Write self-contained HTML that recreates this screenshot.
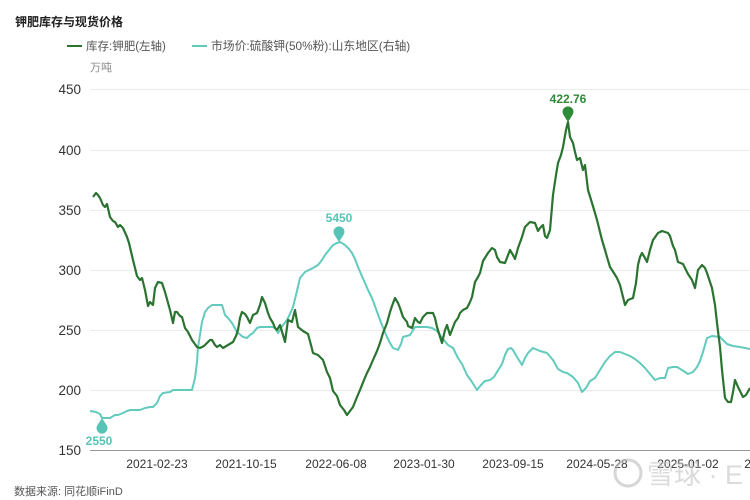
<!DOCTYPE html>
<html><head><meta charset="utf-8"><style>
html,body{margin:0;padding:0;background:#fff;}
svg{display:block;font-family:"Liberation Sans","Noto Sans CJK SC",sans-serif;}
</style></head><body>
<svg width="750" height="500" viewBox="0 0 750 500" xmlns="http://www.w3.org/2000/svg">
<rect width="750" height="500" fill="#fff"/>
<text x="15" y="26" font-size="12" font-weight="bold" fill="#222">钾肥库存与现货价格</text>
<line x1="67" y1="46" x2="82" y2="46" stroke="#2b7330" stroke-width="2"/>
<text x="86" y="50" font-size="11.5" fill="#555">库存:钾肥(左轴)</text>
<line x1="192" y1="46" x2="207" y2="46" stroke="#62cbbd" stroke-width="2"/>
<text x="211" y="50" font-size="11.8" fill="#555">市场价:硫酸钾(50%粉):山东地区(右轴)</text>
<text x="90" y="71" font-size="11" fill="#888">万吨</text>
<g stroke="#ececec" stroke-width="1">
<line x1="90" y1="89.5" x2="750" y2="89.5"/>
<line x1="90" y1="150.5" x2="750" y2="150.5"/>
<line x1="90" y1="210.5" x2="750" y2="210.5"/>
<line x1="90" y1="270.5" x2="750" y2="270.5"/>
<line x1="90" y1="330.5" x2="750" y2="330.5"/>
<line x1="90" y1="390.5" x2="750" y2="390.5"/>
</g>
<line x1="90" y1="450.5" x2="750" y2="450.5" stroke="#999" stroke-width="1"/>
<g font-size="13.5" fill="#333" text-anchor="end">
<text x="81" y="94">450</text>
<text x="81" y="155">400</text>
<text x="81" y="215">350</text>
<text x="81" y="275">300</text>
<text x="81" y="335">250</text>
<text x="81" y="395">200</text>
<text x="81" y="455">150</text>
</g>
<g font-size="12" fill="#333" text-anchor="middle">
<text x="157" y="468">2021-02-23</text>
<text x="246" y="468">2021-10-15</text>
<text x="336" y="468">2022-06-08</text>
<text x="424" y="468">2023-01-30</text>
<text x="513" y="468">2023-09-15</text>
<text x="597" y="468">2024-05-28</text>
<text x="688" y="468">2025-01-02</text>
<text x="775" y="468">2025-08-20</text>
</g>
<text x="14" y="495" font-size="11" fill="#555">数据来源: 同花顺iFinD</text>

<polyline fill="none" stroke="#62cbbd" stroke-width="2" stroke-linejoin="round" points="90,411 96,412 100,414 102,418 106,418 110,418 115,415 118,415 123,413 127,411 130,410 140,410 145,408 150,407 153,407 157,403 160,396 163,393 170,392 173,390 192,390 195,378 197,362 198,347 200,335 202,322 205,312 208,308 212,305 222,305 225,315 228,318 232,323 237,332 243,337 247,338 250,335 253,333 257,328 260,327 267,327 273,327 275,328 278,333 283,325 287,320 290,314 293,307 296,295 300,278 305,272 313,268 318,265 322,260 325,255 329,250 333,245 337,243 340,242 345,245 349,249 352,253 355,259 358,267 361,274 365,283 368,290 372,298 376,309 380,320 384,330 387,337 390,343 393,348 398,350 401,344 403,337 410,335 415,327 427,327 432,328 437,331 443,339 448,345 453,348 458,358 462,364 467,375 472,382 477,390 481,385 485,381 490,380 494,377 497,372 502,364 505,355 508,349 511,348 513,350 517,357 522,365 525,358 528,353 533,348 540,351 547,353 553,360 558,369 563,372 567,373 573,377 578,383 582,392 586,388 590,381 595,378 600,370 605,362 610,356 615,352 620,352 625,354 630,356 635,359 640,363 645,368 650,374 655,380 660,378 665,378 668,368 673,367 677,367 682,370 688,374 693,372 697,367 700,361 703,352 707,338 712,336 720,337 724,341 727,344 733,346 740,347 750,349"/>

<polyline fill="none" stroke="#2b7330" stroke-width="2.2" stroke-linejoin="round" points="93,197 96,193 98,195 100,198 103,205 105,207 107,204 110,217 113,221 115,222 118,227 120,225 123,228 127,237 129,243 133,260 137,276 140,280 142,278 145,290 148,306 150,302 153,305 155,288 158,282 162,283 165,292 170,310 173,323 175,312 177,312 180,316 182,317 185,328 188,332 192,340 197,347 200,348 204,346 207,343 210,340 212,340 215,345 217,347 220,345 223,348 228,345 233,342 236,336 238,330 240,318 242,312 245,314 247,317 250,323 253,315 257,313 260,305 262,297 265,303 268,313 270,318 273,323 275,328 277,330 280,325 283,335 285,342 288,320 292,322 295,310 298,327 303,331 308,334 311,345 313,353 318,355 323,360 327,372 330,378 333,391 337,396 340,405 344,410 347,415 350,411 353,407 357,397 360,390 364,380 367,373 370,367 373,360 377,351 380,343 383,333 387,323 390,312 392,306 395,298 398,303 400,308 403,317 407,322 408,326 412,328 415,318 418,322 420,323 423,317 427,313 430,313 433,313 435,318 437,327 442,343 445,330 447,325 450,335 455,322 458,318 460,313 463,310 467,308 470,302 472,297 475,282 478,277 480,273 483,261 488,253 492,248 495,250 497,257 500,262 505,263 510,250 513,255 515,259 518,248 522,237 525,227 530,222 535,223 538,231 540,228 543,225 545,236 547,238 550,230 553,195 556,175 558,163 561,155 563,147 566,130 568,122 570,137 573,143 575,152 577,160 580,158 583,170 585,165 588,190 592,203 595,213 597,220 600,232 602,240 605,250 607,257 610,267 612,270 617,278 620,285 622,293 625,305 628,300 633,298 636,283 638,265 640,257 642,253 645,258 647,262 650,250 653,240 658,233 662,231 665,232 668,233 670,236 673,246 675,250 678,262 683,264 688,274 692,280 695,288 698,270 702,265 705,268 707,273 710,282 712,288 715,305 717,323 720,347 722,370 725,398 728,402 731,402 733,392 735,380 738,387 740,391 743,397 746,395 750,388"/>

<g>
<path d="M568,122 L563.5,115 A5.5,5.5 0 1 1 572.5,115 Z" fill="#2e8b3a"/>
<text x="568" y="103" font-size="12" font-weight="bold" fill="#2e8b3a" text-anchor="middle">422.76</text>
<path d="M339,242 L334.5,235 A5.5,5.5 0 1 1 343.5,235 Z" fill="#55c4b6"/>
<text x="339" y="222" font-size="12" font-weight="bold" fill="#55c4b6" text-anchor="middle">5450</text>
<path d="M102,418 L97.5,425 A5.5,5.5 0 1 0 106.5,425 Z" fill="#55c4b6"/>
<text x="99" y="445" font-size="12" font-weight="bold" fill="#55c4b6" text-anchor="middle">2550</text>
</g>

<g opacity="0.6">
<circle cx="628" cy="473" r="13" fill="none" stroke="#bbb" stroke-width="3"/>
<text x="647" y="484" font-size="27" fill="#c4c4c4">雪球 · E</text>
</g>
</svg>
</body></html>
